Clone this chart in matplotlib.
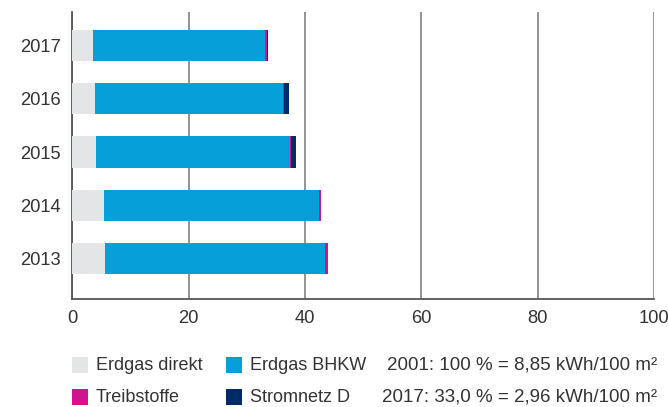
import matplotlib.pyplot as plt
from matplotlib.patches import Rectangle

plt.rcParams['font.family'] = ['Liberation Sans', 'DejaVu Sans']

# Daten (Werte in % bezogen auf 2001)
jahre = ['2013', '2014', '2015', '2016', '2017']
erdgas_direkt = [5.7, 5.4, 4.1, 3.9, 3.6]
erdgas_bhkw = [37.8, 37.1, 33.4, 32.4, 29.6]
treibstoffe = [0.4, 0.2, 0.2, 0.15, 0.25]
stromnetz = [0.0, 0.0, 0.7, 0.85, 0.15]

farben = {'Erdgas direkt': '#e4e5e7', 'Erdgas BHKW': '#079fda',
          'Treibstoffe': '#d0148f', 'Stromnetz D': '#002b64'}

fig = plt.figure(figsize=(6.68, 4.07), dpi=100)
ax = fig.add_axes([0.108, 0.265, 0.871, 0.706])

pos = list(range(len(jahre)))
links = [0] * len(jahre)
for name, werte in [('Erdgas direkt', erdgas_direkt), ('Erdgas BHKW', erdgas_bhkw),
                    ('Treibstoffe', treibstoffe), ('Stromnetz D', stromnetz)]:
    ax.barh(pos, werte, left=links, height=0.585, color=farben[name], zorder=3)
    links = [l + w for l, w in zip(links, werte)]

ax.set_xlim(0, 100)
ax.set_ylim(-0.77, 4.64)
ax.set_xticks([0, 20, 40, 60, 80, 100])
ax.set_yticks(pos)
ax.set_yticklabels(jahre)
ax.tick_params(length=0, labelsize=13.2, colors='#333333')
ax.tick_params(axis='x', pad=8)
ax.tick_params(axis='y', pad=8)
ax.grid(axis='x', color='#8a8a8a', linewidth=1.3, zorder=0)
for s in ['top', 'right']:
    ax.spines[s].set_visible(False)
for s in ['left', 'bottom']:
    ax.spines[s].set_color('#555555')
    ax.spines[s].set_linewidth(1.3)

# Legende
W, H = 668, 407
def legende(x, y, name):
    fig.add_artist(Rectangle((x / W, 1 - (y + 8) / H), 16 / W, 16 / H,
                             transform=fig.transFigure, color=farben[name], lw=0))
    fig.text((x + 24) / W, 1 - y / H, name, fontsize=13, color='#333333', va='center')

legende(72, 365, 'Erdgas direkt')
legende(226, 365, 'Erdgas BHKW')
legende(72, 397, 'Treibstoffe')
legende(226, 397, 'Stromnetz D')
fig.text(657 / W, 1 - 365 / H, '2001: 100 % = 8,85 kWh/100 m²', fontsize=13.5,
         color='#333333', va='center', ha='right')
fig.text(657 / W, 1 - 397 / H, '2017: 33,0 % = 2,96 kWh/100 m²', fontsize=13.5,
         color='#333333', va='center', ha='right')

fig.savefig('out.png', dpi=100)
